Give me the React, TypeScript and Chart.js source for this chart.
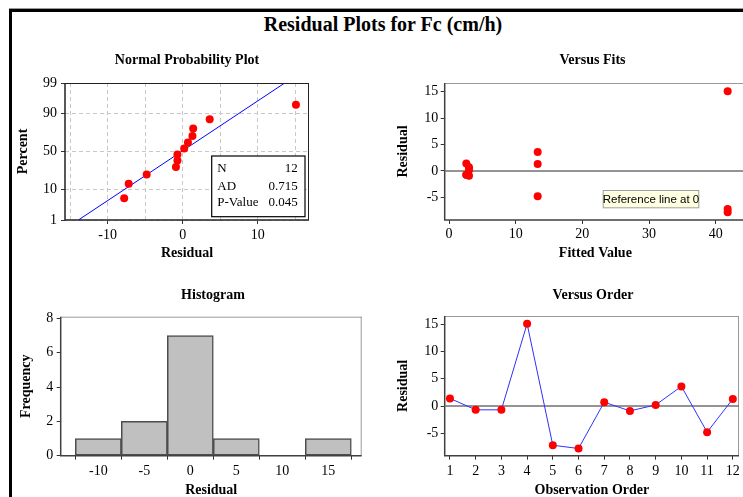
import React, { useEffect, useRef } from "react";
import { Chart, registerables } from "chart.js";

Chart.register(...registerables);

// ---------------- data ----------------
const observationOrder = [1, 2, 3, 4, 5, 6, 7, 8, 9, 10, 11, 12];
const residuals = [1.4, -0.7, -0.7, 15.1, -7.2, -7.8, 0.7, -0.9, 0.2, 3.6, -4.8, 1.3];
const fittedValues = [2.6, 2.6, 2.6, 41.8, 41.8, 41.8, 3.0, 3.0, 3.0, 13.3, 13.3, 13.3];
const probabilityPercents = [5.6, 13.7, 21.8, 29.8, 37.9, 46.0, 54.0, 62.1, 70.2, 78.2, 86.3, 94.4];
const fitLineResiduals = [-13.9, 13.6];
const fitLinePercents = [1, 99];
const percentTicks = [1, 10, 50, 90, 99];
const histBinCenters = [-10, -5, 0, 5, 10, 15];
const histFrequencies = [1, 2, 7, 1, 0, 1];
const statLabels = ["N", "AD", "P-Value"];
const statValues = ["12", "0.715", "0.045"];

const mainTitle = "Residual Plots for Fc (cm/h)";
const serif = "'Liberation Serif', 'Times New Roman', serif";

// inverse standard normal CDF (probability axis transform)
function probit(p: number): number {
  const a = [-3.969683028665376e1, 2.209460984245205e2, -2.759285104469687e2, 1.38357751867269e2, -3.066479806614716e1, 2.506628277459239];
  const b = [-5.447609879822406e1, 1.615858368580409e2, -1.556989798598866e2, 6.680131188771972e1, -1.328068155288572e1];
  const c = [-7.784894002430293e-3, -3.223964580411365e-1, -2.400758277161838, -2.549732539343734, 4.374664141464968, 2.938163982698783];
  const d = [7.784695709041462e-3, 3.224671290700398e-1, 2.445134137142996, 3.754408661907416];
  const pl = 0.02425;
  if (p < pl) {
    const q = Math.sqrt(-2 * Math.log(p));
    return (((((c[0] * q + c[1]) * q + c[2]) * q + c[3]) * q + c[4]) * q + c[5]) / ((((d[0] * q + d[1]) * q + d[2]) * q + d[3]) * q + 1);
  }
  if (p > 1 - pl) {
    const q = Math.sqrt(-2 * Math.log(1 - p));
    return -(((((c[0] * q + c[1]) * q + c[2]) * q + c[3]) * q + c[4]) * q + c[5]) / ((((d[0] * q + d[1]) * q + d[2]) * q + d[3]) * q + 1);
  }
  const q = p - 0.5;
  const r = q * q;
  return ((((((a[0] * r + a[1]) * r + a[2]) * r + a[3]) * r + a[4]) * r + a[5]) * q) / (((((b[0] * r + b[1]) * r + b[2]) * r + b[3]) * r + b[4]) * r + 1);
}

// ---------------- helpers ----------------
const tickFont = { family: serif, size: 14 };
const titleFont = { family: serif, size: 14, weight: "bold" as const };

function framePlugin(dark: string, light: string) {
  return {
    id: "frame",
    beforeDatasetsDraw(chart: any) {
      const { ctx, chartArea: a } = chart;
      ctx.save();
      ctx.lineWidth = 1;
      ctx.strokeStyle = light;
      ctx.beginPath();
      ctx.moveTo(a.left, a.top + 0.5);
      ctx.lineTo(a.right, a.top + 0.5);
      ctx.moveTo(a.right - 0.5, a.top);
      ctx.lineTo(a.right - 0.5, a.bottom);
      ctx.stroke();
      ctx.lineWidth = 1.5;
      ctx.strokeStyle = dark;
      ctx.beginPath();
      ctx.moveTo(a.left, a.top);
      ctx.lineTo(a.left, a.bottom);
      ctx.lineTo(a.right, a.bottom);
      ctx.stroke();
      ctx.restore();
    },
  };
}

function refLinePlugin() {
  return {
    id: "refline",
    beforeDatasetsDraw(chart: any) {
      const { ctx, chartArea: a } = chart;
      const y = chart.scales.y.getPixelForValue(0);
      ctx.save();
      ctx.strokeStyle = "#707070";
      ctx.lineWidth = 1.5;
      ctx.beginPath();
      ctx.moveTo(a.left, y);
      ctx.lineTo(a.right, y);
      ctx.stroke();
      ctx.restore();
    },
  };
}

function panelTitlePlugin(text: string, x: number, y: number) {
  return {
    id: "paneltitle",
    afterDraw(chart: any) {
      const ctx = chart.ctx;
      ctx.save();
      ctx.font = `bold 14px ${serif}`;
      ctx.fillStyle = "#000";
      ctx.textAlign = "center";
      ctx.textBaseline = "middle";
      ctx.fillText(text, x, y);
      ctx.restore();
    },
  };
}

function statsBoxPlugin() {
  return {
    id: "statsbox",
    afterDatasetsDraw(chart: any) {
      const { ctx, chartArea: a } = chart;
      const bx = a.left + 146.7;
      const by = a.top + 73;
      const bw = 93.3;
      const bh = 60.7;
      ctx.save();
      ctx.fillStyle = "#fff";
      ctx.fillRect(bx, by, bw, bh);
      ctx.strokeStyle = "#000";
      ctx.lineWidth = 1.2;
      ctx.strokeRect(bx, by, bw, bh);
      ctx.font = `13px ${serif}`;
      ctx.fillStyle = "#000";
      ctx.textBaseline = "middle";
      const rows = [13, 30.5, 47];
      statLabels.forEach((lab, i) => {
        ctx.textAlign = "left";
        ctx.fillText(lab, bx + 5.6, by + rows[i]);
        ctx.textAlign = "right";
        ctx.fillText(statValues[i], bx + bw - 7.3, by + rows[i]);
      });
      ctx.restore();
    },
  };
}

function refLabelPlugin() {
  return {
    id: "reflabel",
    afterDatasetsDraw(chart: any) {
      const { ctx, chartArea: a } = chart;
      const bx = a.left + 158;
      const by = a.top + 107;
      const bw = 96.6;
      const bh = 18.3;
      ctx.save();
      ctx.fillStyle = "#ffffe1";
      ctx.fillRect(bx, by, bw, bh);
      ctx.strokeStyle = "#a0a0a0";
      ctx.lineWidth = 1;
      ctx.strokeRect(bx + 0.5, by + 0.5, bw - 1, bh - 1);
      ctx.font = "11.5px 'Liberation Sans', Arial, sans-serif";
      ctx.fillStyle = "#000";
      ctx.textAlign = "center";
      ctx.textBaseline = "middle";
      ctx.fillText("Reference line at 0", bx + bw / 2, by + bh / 2 + 0.5);
      ctx.restore();
    },
  };
}

function baseAxis(extra: any) {
  return {
    type: "linear",
    ...extra,
    ticks: { color: "#000", font: tickFont, padding: 3, includeBounds: false, ...(extra.ticks || {}) },
    grid: { drawOnChartArea: false, drawTicks: true, tickLength: 4, tickColor: "#333", tickWidth: 1, ...(extra.grid || {}) },
    border: { display: false, ...(extra.border || {}) },
    title: { display: true, color: "#000", font: titleFont, ...(extra.title || {}) },
  };
}

const baseOptions = (padding: any) => ({
  animation: false,
  responsive: false,
  events: [],
  layout: { padding },
  plugins: { legend: { display: false }, tooltip: { enabled: false }, title: { display: false } },
});

// ---------------- chart configs ----------------
function nppConfig(): any {
  return {
    type: "scatter",
    data: {
      datasets: [
        {
          data: [...residuals].sort((p, q) => p - q).map((r, i) => ({ x: r, y: probit(probabilityPercents[i] / 100) })),
          pointRadius: 4,
          pointBackgroundColor: "#ff0000",
          pointBorderWidth: 0,
          showLine: false,
          order: 0,
        },
        {
          data: fitLineResiduals.map((r, i) => ({ x: r, y: probit(fitLinePercents[i] / 100) })),
          showLine: true,
          borderColor: "#0000ff",
          borderWidth: 1,
          pointRadius: 0,
          order: 1,
        },
      ],
    },
    options: {
      ...baseOptions({ left: 0, top: 43, right: 53, bottom: 0 }),
      scales: {
        x: baseAxis({
          position: "bottom",
          min: -15.69,
          max: 16.84,
          ticks: { stepSize: 5, callback: (v: number) => (v % 10 === 0 ? String(v) : "") },
          grid: {
            drawOnChartArea: true,
            color: "#c8c8c8",
            tickBorderDash: [],
            tickColor: (ctx: any) => (ctx.tick && ctx.tick.value % 10 === 0 ? "#333" : "rgba(0,0,0,0)"),
          },
          border: { display: false, dash: [4, 3] },
          title: { text: "Residual", padding: { top: 0, bottom: 3 } },
          afterFit: (s: any) => {
            s.height = 45;
          },
        }),
        y: baseAxis({
          position: "left",
          min: probit(percentTicks[0] / 100),
          max: probit(percentTicks[percentTicks.length - 1] / 100),
          afterBuildTicks: (s: any) => {
            s.ticks = percentTicks.map((p) => ({ value: probit(p / 100) }));
          },
          ticks: { padding: 4, callback: (_v: number, i: number) => String(percentTicks[i]) },
          grid: { drawOnChartArea: true, color: "#c8c8c8", tickBorderDash: [] },
          border: { display: false, dash: [4, 3] },
          title: { text: "Percent", padding: { top: 2.6, bottom: 0 } },
          afterFit: (s: any) => {
            s.width = 53;
          },
        }),
      },
    },
    plugins: [framePlugin("#222", "#222"), panelTitlePlugin("Normal Probability Plot", 175, 20.7), statsBoxPlugin()],
  };
}

function fitsConfig(): any {
  return {
    type: "scatter",
    data: {
      datasets: [
        {
          data: fittedValues.map((f, i) => ({ x: f, y: residuals[i] })),
          pointRadius: 4,
          pointBackgroundColor: "#ff0000",
          pointBorderWidth: 0,
        },
      ],
    },
    options: {
      ...baseOptions({ left: 0, top: 43, right: 4, bottom: 0 }),
      scales: {
        x: baseAxis({
          position: "bottom",
          min: -0.645,
          max: 44.55,
          ticks: { stepSize: 10, padding: 2 },
          title: { text: "Fitted Value", padding: { top: 0, bottom: 3.6 } },
          afterFit: (s: any) => {
            s.height = 45;
          },
        }),
        y: baseAxis({
          position: "left",
          min: -9.27,
          max: 16.64,
          ticks: { stepSize: 5, padding: 2.4 },
          title: { text: "Residual", padding: { top: 24.9, bottom: 0 } },
          afterFit: (s: any) => {
            s.width = 74.7;
          },
        }),
      },
    },
    plugins: [framePlugin("#404040", "#9a9a9a"), refLinePlugin(), panelTitlePlugin("Versus Fits", 222.5, 20), refLabelPlugin()],
  };
}

function histConfig(): any {
  return {
    type: "bar",
    data: {
      datasets: [
        {
          data: histBinCenters.map((c, i) => ({ x: c, y: histFrequencies[i] === 0 ? null : histFrequencies[i] })),
          backgroundColor: "#c0c0c0",
          borderColor: "#4d4d4d",
          borderWidth: 1.5,
          borderSkipped: false,
          categoryPercentage: 1,
          barPercentage: 1,
        },
      ],
    },
    options: {
      ...baseOptions({ left: 0, top: 36.7, right: 0.3, bottom: 0 }),
      scales: {
        x: baseAxis({
          position: "bottom",
          offset: false,
          min: -14.09,
          max: 18.63,
          ticks: { stepSize: 5, padding: 3.6 },
          title: { text: "Residual", padding: { top: 0, bottom: 1.6 } },
          afterFit: (s: any) => {
            s.height = 44.3;
          },
        }),
        y: baseAxis({
          position: "left",
          min: 0,
          max: 8.1,
          ticks: { stepSize: 2, padding: 3.4 },
          title: { text: "Frequency", padding: { top: 6.3, bottom: 0 } },
          afterFit: (s: any) => {
            s.width = 48.7;
          },
        }),
      },
    },
    plugins: [framePlugin("#404040", "#9a9a9a"), panelTitlePlugin("Histogram", 201, 15)],
  };
}

function orderConfig(): any {
  return {
    type: "scatter",
    data: {
      datasets: [
        {
          data: observationOrder.map((o, i) => ({ x: o, y: residuals[i] })),
          showLine: true,
          borderColor: "#3030ff",
          borderWidth: 1,
          pointRadius: 4,
          pointBackgroundColor: "#ff0000",
          pointBorderWidth: 0,
        },
      ],
    },
    options: {
      ...baseOptions({ left: 0, top: 36, right: 1, bottom: 0 }),
      scales: {
        x: baseAxis({
          position: "bottom",
          min: 0.796,
          max: 12.24,
          ticks: { stepSize: 1, padding: 3 },
          title: { text: "Observation Order", padding: { top: 0, bottom: 0.9 } },
          afterFit: (s: any) => {
            s.height = 44.3;
          },
        }),
        y: baseAxis({
          position: "left",
          min: -9.12,
          max: 16.52,
          ticks: { stepSize: 5, padding: 2.4 },
          title: { text: "Residual", padding: { top: 24.6, bottom: 0 } },
          afterFit: (s: any) => {
            s.width = 74.7;
          },
        }),
      },
    },
    plugins: [framePlugin("#404040", "#9a9a9a"), refLinePlugin(), panelTitlePlugin("Versus Order", 223, 15)],
  };
}

// ---------------- components ----------------
function ChartPanel(props: { left: number; top: number; width: number; height: number; build: () => any }) {
  const ref = useRef<HTMLCanvasElement>(null);
  useEffect(() => {
    if (!ref.current) return;
    const chart = new Chart(ref.current, props.build());
    return () => chart.destroy();
  }, []);
  return (
    <canvas
      ref={ref}
      width={props.width}
      height={props.height}
      style={{ position: "absolute", left: props.left, top: props.top, width: props.width, height: props.height }}
    />
  );
}

export default function App() {
  return (
    <div
      style={{
        position: "absolute",
        left: 0,
        top: 0,
        width: 743,
        height: 497,
        overflow: "hidden",
        background: "#fff",
      }}
    >
      <div style={{ position: "absolute", left: 9, top: 8, width: 900, height: 1, background: "#9a9a9a" }} />
      <div
        style={{
          position: "absolute",
          left: 9,
          top: 9,
          width: 900,
          height: 700,
          borderLeft: "3px solid #000",
          borderTop: "3px solid #000",
        }}
      />
      <div
        style={{
          position: "absolute",
          left: 0,
          top: 14,
          width: 766,
          textAlign: "center",
          fontFamily: serif,
          fontWeight: "bold",
          fontSize: 20,
          lineHeight: "20px",
          color: "#000",
        }}
      >
        {mainTitle}
      </div>
      <ChartPanel left={12} top={40} width={350} height={225} build={nppConfig} />
      <ChartPanel left={370} top={40} width={380} height={225} build={fitsConfig} />
      <ChartPanel left={12} top={280} width={350} height={220} build={histConfig} />
      <ChartPanel left={370} top={280} width={373} height={220} build={orderConfig} />
    </div>
  );
}
